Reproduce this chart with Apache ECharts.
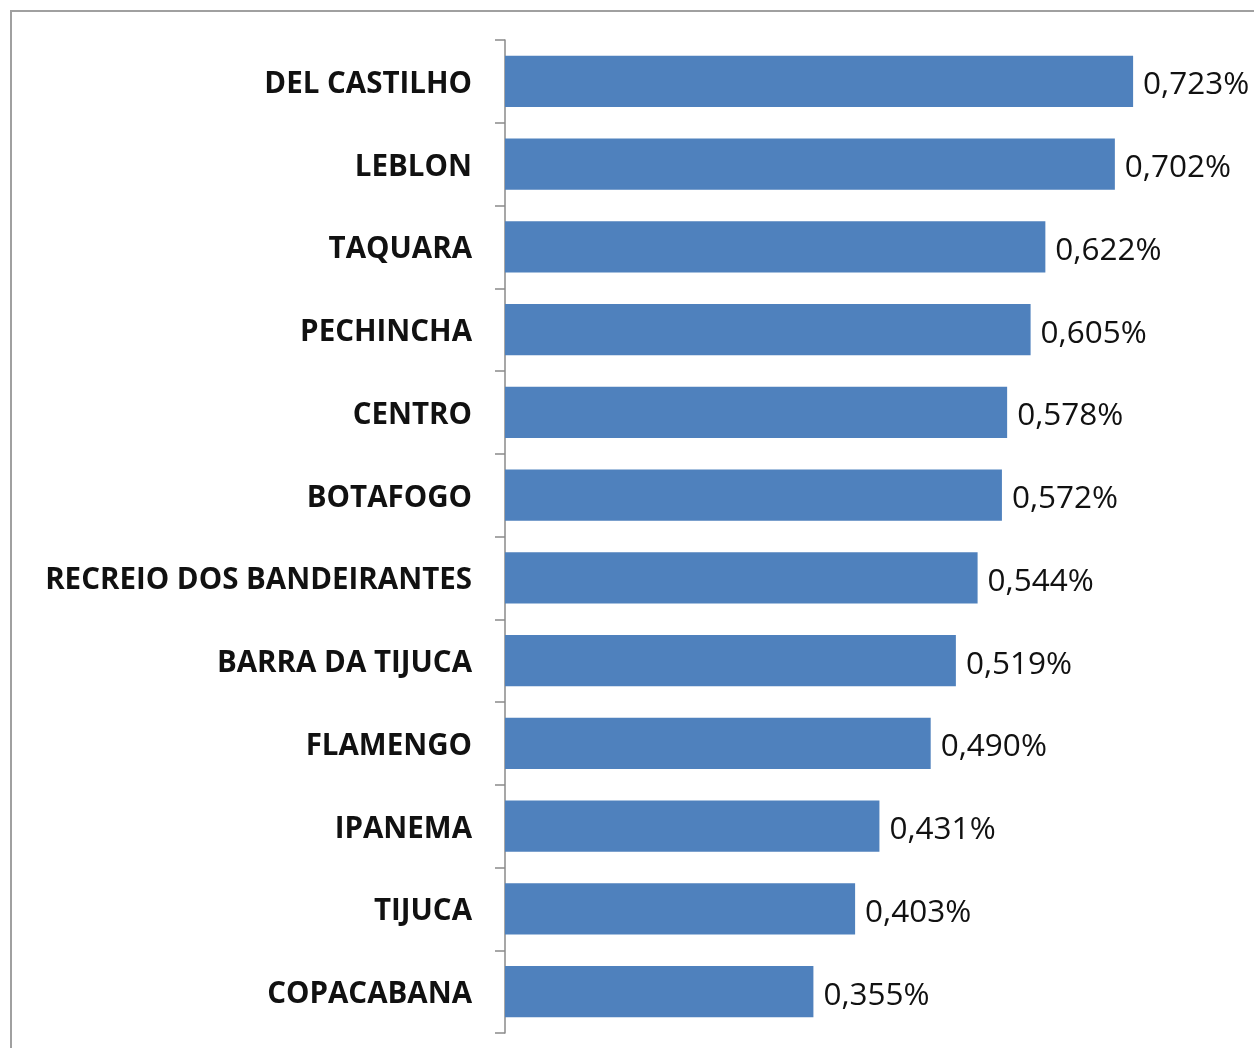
<!DOCTYPE html>
<html>
<head>
<meta charset="utf-8">
<script src="https://cdn.jsdelivr.net/npm/echarts@6/dist/echarts.min.js"></script>
<style>
  html, body { margin: 0; padding: 0; background: #fff; }
  #chart { width: 1254px; height: 1048px; }
</style>
</head>
<body>
<div id="chart"></div>
<script>
const bairros = [
  'DEL CASTILHO', 'LEBLON', 'TAQUARA', 'PECHINCHA', 'CENTRO', 'BOTAFOGO',
  'RECREIO DOS BANDEIRANTES', 'BARRA DA TIJUCA', 'FLAMENGO', 'IPANEMA',
  'TIJUCA', 'COPACABANA'
];
const percentuais = [0.723, 0.702, 0.622, 0.605, 0.578, 0.572, 0.544, 0.519, 0.490, 0.431, 0.403, 0.355];

const chart = echarts.init(document.getElementById('chart'));

const option = {
  backgroundColor: '#fff',
  animation: false,
  graphic: [
    {
      type: 'rect',
      shape: { x: 11, y: 11, width: 1300, height: 1100 },
      style: { fill: 'none', stroke: '#a0a0a0', lineWidth: 2 },
      z: -1
    }
  ],
  grid: {
    left: 505,
    right: 54,
    top: 40,
    bottom: 15
  },
  xAxis: {
    type: 'value',
    min: 0,
    max: 0.8,
    show: false
  },
  yAxis: {
    type: 'category',
    inverse: true,
    data: bairros,
    axisLine: { show: true, lineStyle: { color: '#8a8a8a', width: 1.5 } },
    axisTick: { show: true, length: 10, lineStyle: { color: '#8a8a8a', width: 1.5 } },
    axisLabel: {
      margin: 33,
      formatter: (v) => '{n|' + v + '}',
      rich: {
        n: {
          fontFamily: 'Open Sans',
          fontWeight: 'bold',
          fontSize: 29.5,
          color: '#111',
          padding: [6, 0, 0, 0]
        }
      }
    }
  },
  series: [
    {
      type: 'bar',
      data: percentuais,
      barWidth: '62%',
      itemStyle: { color: '#4F81BD' },
      label: {
        show: true,
        position: 'right',
        distance: 10,
        offset: [0, 4],
        fontFamily: 'Open Sans',
        fontSize: 31.5,
        color: '#111',
        formatter: (p) => p.value.toFixed(3).replace('.', ',') + '%'
      }
    }
  ]
};

chart.setOption(option);
window.addEventListener('resize', () => chart.resize());
</script>
</body>
</html>
